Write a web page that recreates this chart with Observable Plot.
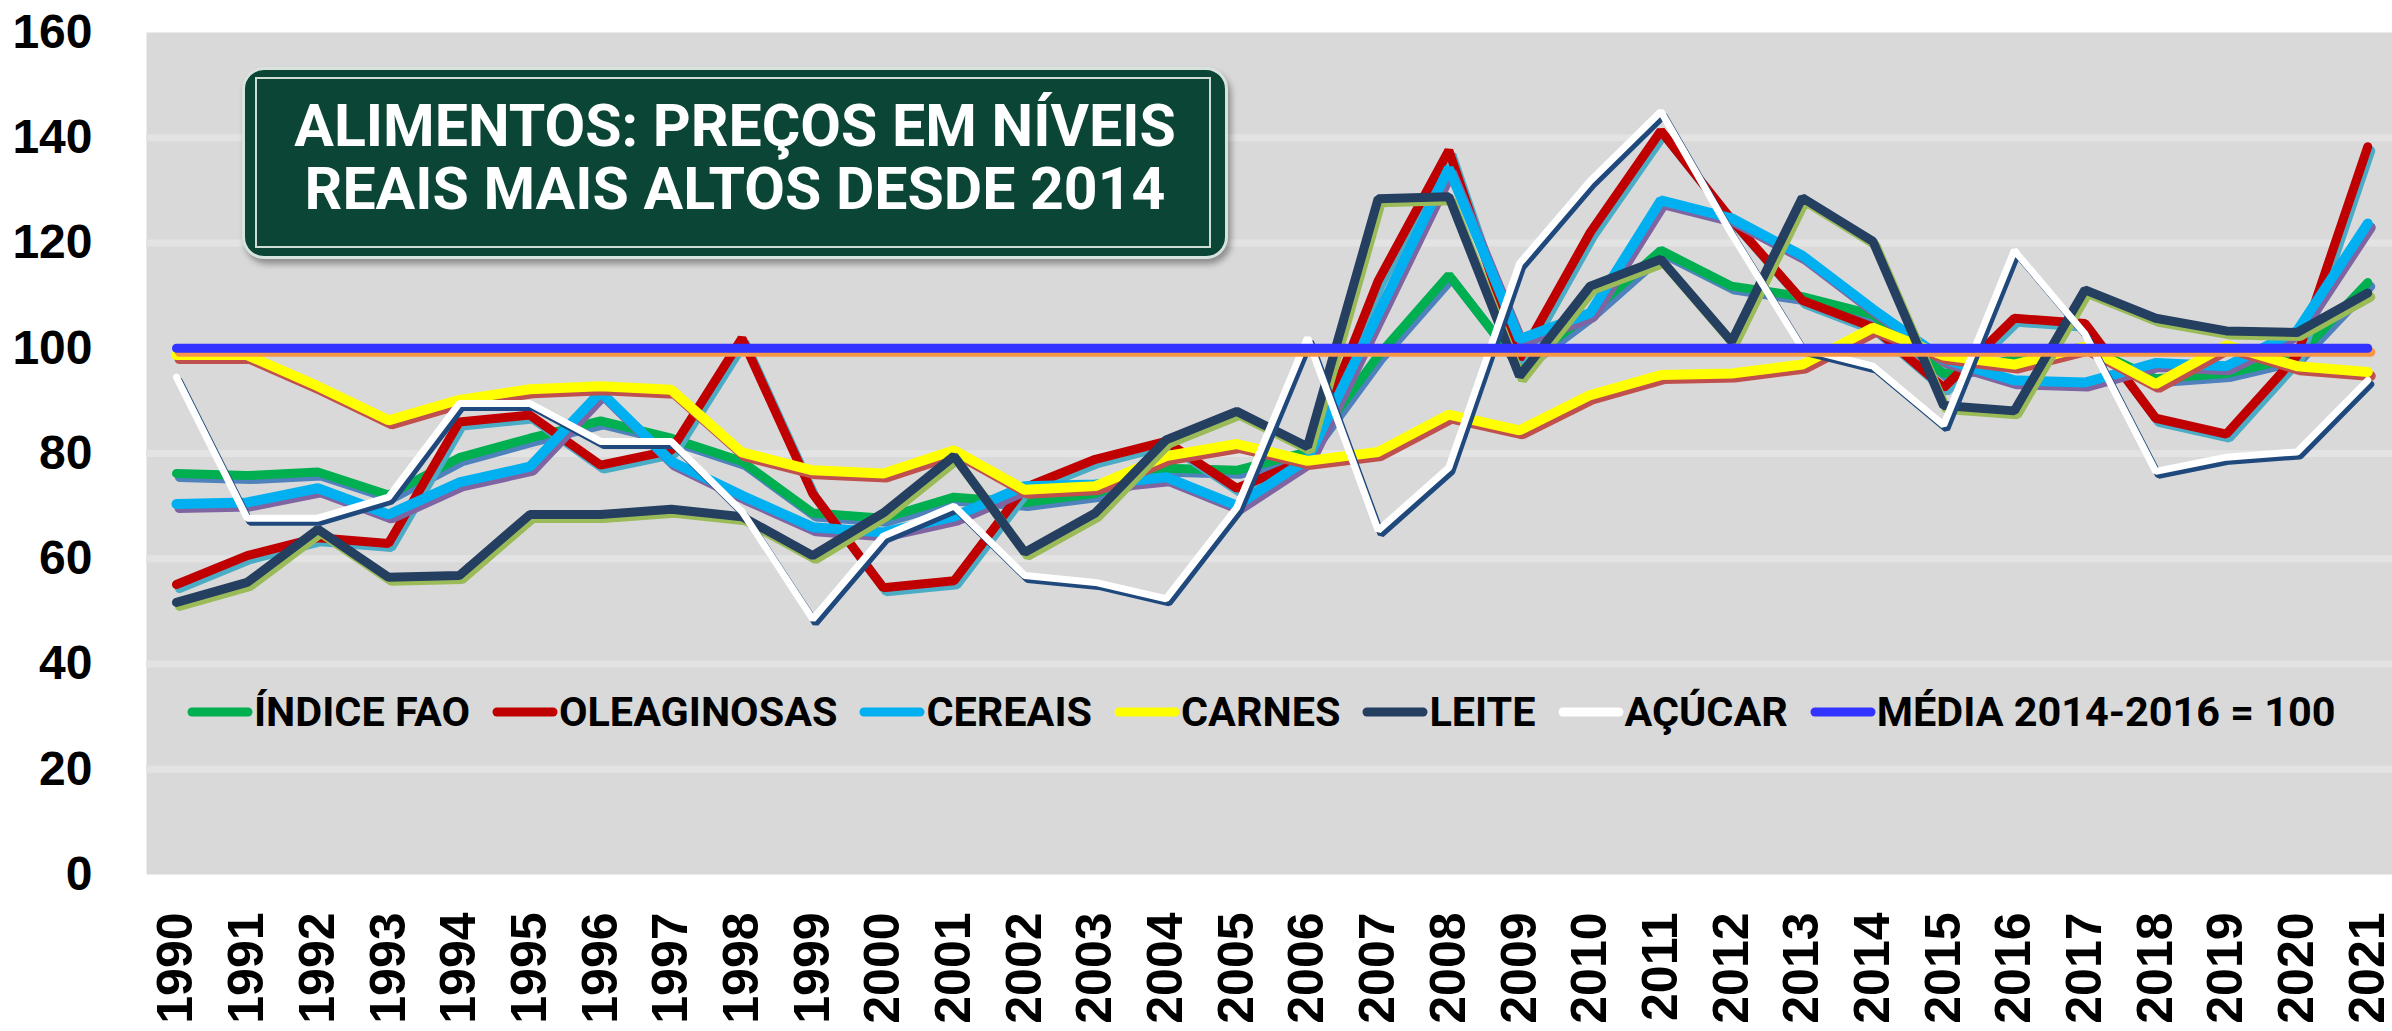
<!DOCTYPE html>
<html>
<head>
<meta charset="utf-8">
<script src="https://cdn.jsdelivr.net/npm/d3@7"></script>
<script src="https://cdn.jsdelivr.net/npm/@observablehq/plot@0.6"></script>
<style>
  html, body { margin: 0; padding: 0; background: #ffffff; }
  #wrap { position: relative; width: 2392px; height: 1031px; overflow: hidden; }
  #title {
    position: absolute; left: 242px; top: 67px; width: 980px; height: 186px;
    background: #0a4535; border-radius: 22px;
    border: 3px solid #d9e3dd;
    box-shadow: 3px 5px 6px rgba(0,0,0,0.35);
  }
  #title .inner {
    position: absolute; left: 10px; top: 7px; right: 14px; bottom: 8px;
    border: 2px solid #cfdcd5;
  }
  #title .txt {
    position: absolute; left: 0; right: 0; top: 24px;
    text-align: center; color: #ffffff;
    font-family: Roboto, "Noto Sans", sans-serif; font-weight: 700;
    font-size: 59px; line-height: 63px;
  }
  #legend {
    position: absolute; left: 187px; top: 690px; height: 44px;
    display: flex; align-items: center; gap: 22px;
    font-family: Roboto, "Noto Sans", sans-serif; font-weight: 700; font-size: 41.4px; color: #000;
  }
  #legend .item { display: flex; align-items: center; }
  #legend svg { display: block; margin-right: 1px; }
</style>
</head>
<body>
<div id="wrap">
  <div id="chart"></div>
  <div id="title"><div class="inner"></div><div class="txt">ALIMENTOS: PREÇOS EM NÍVEIS<br>REAIS MAIS ALTOS DESDE 2014</div></div>
  <div id="legend"></div>
</div>
<script>
// ---- data ----
const years = [1990,1991,1992,1993,1994,1995,1996,1997,1998,1999,2000,2001,2002,2003,2004,2005,2006,2007,2008,2009,2010,2011,2012,2013,2014,2015,2016,2017,2018,2019,2020,2021];
const indiceFao   = [76.2,75.8,76.5,72.1,79.2,82.9,86.2,82.9,78.5,68.7,67.7,71.7,70.7,72.4,77.2,76.8,80.3,98.6,113.9,96.6,106.7,118.6,111.8,109.8,106.4,95.2,97.9,100.3,94.2,95.2,98.3,112.5];
const oleaginosas = [55.1,60.6,64.0,62.9,86.0,87.3,77.8,80.6,101.9,72.4,54.5,55.8,73.5,78.9,82.3,73.4,78.9,112.8,137.6,98.0,122.0,141.3,124.4,109.1,104.0,92.5,105.7,104.7,86.7,83.7,98.6,138.3];
const cereais     = [70.4,70.7,73.4,68.4,74.5,77.5,91.7,78.5,72.0,66.0,65.0,68.0,73.8,74.1,75.5,70.1,78.9,106.5,134.2,101.7,106.7,128.1,124.7,117.6,107.4,97.9,93.9,93.5,97.2,96.6,103.3,123.7];
const carnes      = [98.7,98.7,92.8,86.3,90.2,92.2,92.8,92.1,80.2,76.8,76.2,80.6,73.1,73.8,79.5,81.8,78.6,80.3,87.4,84.4,91.1,94.9,95.2,96.9,103.9,98.6,96.9,100.3,93.2,100.6,96.6,95.5];
const leite       = [51.7,55.5,65.6,56.5,56.8,68.4,68.4,69.4,68.0,60.6,68.7,79.5,61.2,68.7,82.6,88.0,81.3,128.4,128.8,94.7,111.8,116.9,101.3,128.6,120.3,89.1,88.1,111.1,105.7,103.3,103.0,110.5];
const acucar      = [94.5,67.7,67.7,71.7,89.5,89.5,82.3,82.3,69.0,48.5,64.3,70.0,56.8,55.5,52.4,69.7,102.0,65.4,77.3,116.1,131.8,145.0,121.7,100.0,96.6,85.4,118.6,102.7,76.6,79.3,80.3,93.9];
const media       = [100,100,100,100,100,100,100,100,100,100,100,100,100,100,100,100,100,100,100,100,100,100,100,100,100,100,100,100,100,100,100,100];
const seriesNames = ["ÍNDICE FAO","OLEAGINOSAS","CEREAIS","CARNES","LEITE","AÇÚCAR","MÉDIA 2014-2016 = 100"];
const yTicks = [0,20,40,60,80,100,120,140,160];
const gridTicks = [20,40,60,80,120,140];

// ---- styles ----
const seriesValues = [indiceFao, oleaginosas, cereais, carnes, leite, acucar, media];
const colors  = ["#00b050","#c00000","#00b0f0","#ffff00","#243f60","#ffffff","#3333ff"];
const shadows = ["#4f81bd","#4bacc6","#8064a2","#c0504d","#9bbb59","#1f497d","#f79646"];
const widths  = [9,9,10,10,9,7,9];

const marks = [
  Plot.frame({fill: "#d9d9d9", stroke: null}),
  Plot.ruleY(gridTicks, {stroke: "#e3e3e3", strokeWidth: 7})
];
seriesNames.forEach((name, i) => {
  const rows = years.map((y, j) => ({year: y, value: seriesValues[i][j], series: name}));
  marks.push(Plot.line(rows, {x: "year", y: "value", stroke: shadows[i], strokeWidth: widths[i], dx: 3, dy: 4, strokeLinecap: "round", strokeLinejoin: "miter"}));
  marks.push(Plot.line(rows, {x: "year", y: "value", stroke: colors[i], strokeWidth: widths[i], strokeLinecap: "round", strokeLinejoin: "miter"}));
});
marks.push(Plot.axisY({ticks: yTicks, tickSize: 0, tickPadding: 54, fontSize: 48, fontWeight: "bold", fill: "#000", label: null}));
marks.push(Plot.axisX({ticks: years, tickFormat: d => String(d), tickRotate: -90, tickSize: 0, tickPadding: 38, fontSize: 50, fontWeight: "bold", fill: "#000", label: null}));

const chart = Plot.plot({
  width: 2392,
  height: 1031,
  marginTop: 32,
  marginBottom: 157,
  marginLeft: 146,
  marginRight: 0,
  x: {type: "linear", domain: [1989.576, 2021.35], label: null},
  y: {domain: [0, 160], label: null},
  style: {fontFamily: "'Liberation Sans', Arial, sans-serif", background: "#ffffff", color: "#000", overflow: "visible"},
  marks
});
document.getElementById("chart").appendChild(chart);

// ---- legend ----
const legend = document.getElementById("legend");
seriesNames.forEach((name, i) => {
  const item = document.createElement("div");
  item.className = "item";
  item.innerHTML = `<svg width="66" height="14"><line x1="5" y1="7" x2="61" y2="7" stroke="${colors[i]}" stroke-width="9" stroke-linecap="round"/></svg><span>${name}</span>`;
  legend.appendChild(item);
});
</script>
</body>
</html>
